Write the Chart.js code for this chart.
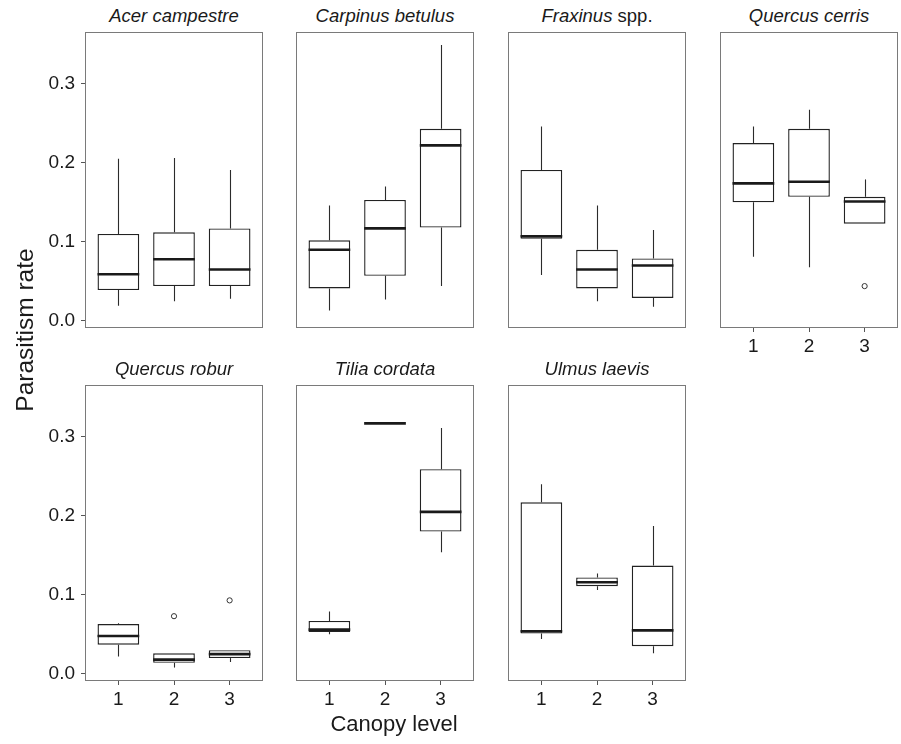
<!DOCTYPE html>
<html>
<head>
<meta charset="utf-8">
<script src="https://cdn.jsdelivr.net/npm/chart.js@4.4.1/dist/chart.umd.min.js"></script>
<style>
  body { margin: 0; background: #fff; width: 901px; height: 744px; position: relative; overflow: hidden;
         font-family: "Liberation Sans", Arial, sans-serif; color: #1a1a1a; }
  canvas { position: absolute; }
  .ptitle { position: absolute; width: 178px; height: 20px; line-height: 20px; text-align: center; font-size: 18.5px; white-space: nowrap; }
  .axtitle { position: absolute; text-align: center; white-space: nowrap; }
</style>
</head>
<body>
<script>
// facets, in reading order
const species = ["Acer campestre", "Carpinus betulus", "Fraxinus", "Quercus cerris",
                 "Quercus robur", "Tilia cordata", "Ulmus laevis"];
const speciesSuffix = ["", "", " spp.", "", "", "", ""];
const canopyLevels = [1, 2, 3];
const yTicks = [0, 0.1, 0.2, 0.3];

// box stats per facet, one value per canopy level
const whiskerLow = [
  [0.019, 0.025, 0.028], [0.013, 0.027, 0.044], [0.058, 0.025, 0.018], [0.081, 0.068, 0.123],
  [0.022, 0.008, 0.015], [0.050, 0.317, 0.154], [0.044, 0.106, 0.026]
];
const boxLow = [
  [0.039, 0.044, 0.044], [0.041, 0.057, 0.118], [0.104, 0.041, 0.029], [0.150, 0.157, 0.123],
  [0.037, 0.014, 0.020], [0.053, 0.317, 0.180], [0.051, 0.111, 0.035]
];
const median = [
  [0.059, 0.078, 0.065], [0.090, 0.117, 0.222], [0.107, 0.065, 0.070], [0.174, 0.176, 0.151],
  [0.048, 0.018, 0.025], [0.056, 0.317, 0.205], [0.054, 0.116, 0.055]
];
const boxHigh = [
  [0.110, 0.112, 0.117], [0.102, 0.153, 0.243], [0.191, 0.090, 0.079], [0.225, 0.243, 0.157],
  [0.063, 0.026, 0.030], [0.067, 0.317, 0.259], [0.217, 0.122, 0.137]
];
const whiskerHigh = [
  [0.205, 0.206, 0.191], [0.146, 0.170, 0.349], [0.246, 0.146, 0.115], [0.246, 0.267, 0.179],
  [0.064, 0.026, 0.030], [0.079, 0.317, 0.311], [0.240, 0.127, 0.187]
];
// outliers: facet index, canopy level, value
const outlierPanel = [3, 4, 4];
const outlierLevel = [3, 2, 3];
const outlierValue = [0.044, 0.073, 0.093];

// layout
const panelLeft = [85, 296, 508, 720, 85, 296, 508];
const panelTop = [32, 32, 32, 32, 385, 385, 385];
const panelW = 178, panelH = 296;
const padL = 55, padB = 35;
const hasY = [true, false, false, false, true, false, false];
const hasX = [false, false, false, true, true, true, true];

const boxParts = {
  id: "boxparts",
  beforeDatasetsDraw(chart, args, opts) {
    const p = opts.panel;
    const { ctx, scales: { x, y } } = chart;
    ctx.save();
    ctx.strokeStyle = "#2b2b2b";
    ctx.lineWidth = 1.1;
    canopyLevels.forEach((lv, i) => {
      const px = Math.round(x.getPixelForValue(lv)) + 0.5;
      ctx.beginPath();
      ctx.moveTo(px, y.getPixelForValue(whiskerLow[p][i]));
      ctx.lineTo(px, y.getPixelForValue(boxLow[p][i]));
      ctx.moveTo(px, y.getPixelForValue(boxHigh[p][i]));
      ctx.lineTo(px, y.getPixelForValue(whiskerHigh[p][i]));
      ctx.stroke();
    });
    ctx.restore();
  },
  afterDatasetsDraw(chart, args, opts) {
    const p = opts.panel;
    const { ctx, chartArea: a, scales: { y } } = chart;
    const bars = chart.getDatasetMeta(0).data;
    ctx.save();
    ctx.strokeStyle = "#1a1a1a";
    ctx.lineWidth = 2.6;
    bars.forEach((b, i) => {
      const py = y.getPixelForValue(median[p][i]);
      ctx.beginPath();
      ctx.moveTo(b.x - b.width / 2, py);
      ctx.lineTo(b.x + b.width / 2, py);
      ctx.stroke();
    });
    ctx.strokeStyle = "#7a7a7a";
    ctx.lineWidth = 1;
    ctx.strokeRect(Math.round(a.left) + 0.5, Math.round(a.top) + 0.5,
                   Math.round(a.right - a.left) - 1, Math.round(a.bottom - a.top) - 1);
    ctx.restore();
  }
};

species.forEach((name, p) => {
  const L = panelLeft[p], T = panelTop[p];

  const t = document.createElement("div");
  t.className = "ptitle";
  t.style.left = L + "px";
  t.style.top = (T - 26) + "px";
  t.innerHTML = "<i>" + name + "</i>" + speciesSuffix[p];
  document.body.appendChild(t);

  const cv = document.createElement("canvas");
  cv.width = padL + panelW + 2;
  cv.height = 1 + panelH + padB;
  cv.style.left = (L - padL) + "px";
  cv.style.top = (T - 1) + "px";
  document.body.appendChild(cv);

  const outliers = [];
  outlierPanel.forEach((op, k) => {
    if (op === p) outliers.push({ x: outlierLevel[k], y: outlierValue[k] });
  });

  new Chart(cv, {
    type: "bar",
    data: {
      datasets: [
        {
          type: "bar",
          data: canopyLevels.map((lv, i) => ({ x: lv, y: [boxLow[p][i], boxHigh[p][i]] })),
          backgroundColor: "#ffffff",
          borderColor: "#222",
          borderWidth: 1.4,
          borderSkipped: false,
          barPercentage: 0.75,
          categoryPercentage: 1
        },
        {
          type: "scatter",
          data: outliers,
          pointStyle: "circle",
          pointRadius: 2.6,
          borderColor: "#333",
          borderWidth: 1,
          backgroundColor: "rgba(0,0,0,0)"
        }
      ]
    },
    options: {
      responsive: false,
      animation: false,
      layout: {
        autoPadding: false,
        padding: { top: 1, right: 2, left: hasY[p] ? 0 : padL, bottom: hasX[p] ? 0 : padB }
      },
      plugins: { legend: { display: false }, tooltip: { enabled: false }, boxparts: { panel: p } },
      scales: {
        x: {
          type: "linear",
          min: 0.4,
          max: 3.6,
          offset: false,
          display: hasX[p],
          afterBuildTicks: (s) => { s.ticks = canopyLevels.map(v => ({ value: v })); },
          afterFit: (s) => {
            s.height = hasX[p] ? padB : 0;
            s.paddingLeft = s.paddingRight = s.paddingTop = s.paddingBottom = 0;
          },
          grid: { offset: false, drawOnChartArea: false, tickLength: 4, tickColor: "#555" },
          border: { display: false },
          ticks: { color: "#1a1a1a", padding: 3, font: { size: 19, family: "Liberation Sans" },
                   callback: (v) => String(v) }
        },
        y: {
          type: "linear",
          min: -0.009,
          max: 0.3655,
          display: hasY[p],
          afterBuildTicks: (s) => { s.ticks = yTicks.map(v => ({ value: v })); },
          afterFit: (s) => {
            s.width = hasY[p] ? padL : 0;
            s.paddingLeft = s.paddingRight = s.paddingTop = s.paddingBottom = 0;
          },
          grid: { drawOnChartArea: false, tickLength: 4, tickColor: "#555" },
          border: { display: false },
          ticks: { color: "#1a1a1a", padding: 6, font: { size: 19, family: "Liberation Sans" },
                   callback: (v) => v.toFixed(1) }
        }
      }
    },
    plugins: [boxParts]
  });
});

const yt = document.createElement("div");
yt.className = "axtitle";
yt.textContent = "Parasitism rate";
yt.style.cssText = "left:-125px;top:316px;width:300px;height:28px;line-height:28px;font-size:24.5px;transform:rotate(-90deg);";
document.body.appendChild(yt);

const xt = document.createElement("div");
xt.className = "axtitle";
xt.textContent = "Canopy level";
xt.style.cssText = "left:244px;top:711px;width:300px;height:26px;line-height:26px;font-size:22px;";
document.body.appendChild(xt);
</script>
</body>
</html>
